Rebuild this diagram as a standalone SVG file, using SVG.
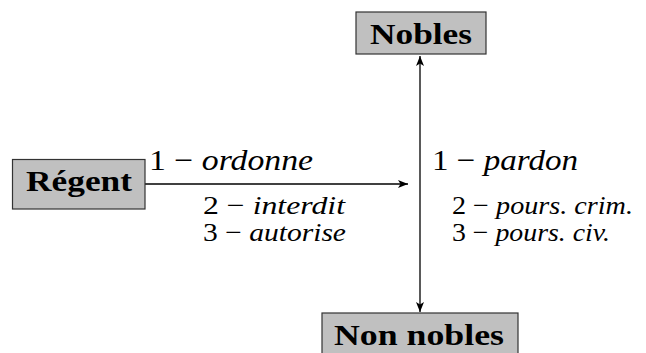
<svg xmlns="http://www.w3.org/2000/svg" width="646" height="353" viewBox="0 0 646 353">
<style>
.box{fill:#c0c0c0;stroke:#333;stroke-width:1.2}
.nt{font-family:"Liberation Serif",serif;font-weight:bold;font-size:30px;fill:#000}
.lb{font-family:"Liberation Serif",serif;font-weight:normal;fill:#000}
.it{font-style:italic}
.big{font-size:30px}
.sm{font-size:26px}
.conn{stroke:#000;stroke-width:1.3;fill:none}
</style>
<defs>
<marker id="ah" viewBox="0 0 10 8" refX="10" refY="4" markerWidth="10" markerHeight="8" markerUnits="userSpaceOnUse" orient="auto">
<path d="M0,0 L10,4 L0,8 L2.5,4 Z" fill="#000"/>
</marker>
</defs>
<g id="connectors">
<line class="conn" x1="145" y1="184" x2="408" y2="184" marker-end="url(#ah)"/>
<line class="conn" x1="420" y1="184" x2="420" y2="56" marker-end="url(#ah)"/>
<line class="conn" x1="420" y1="184" x2="420" y2="312" marker-end="url(#ah)"/>
</g>
<g id="regent">
<rect class="box" x="12.5" y="159.5" width="132.5" height="49.5"/>
<text class="nt" x="26" y="191" textLength="106" lengthAdjust="spacingAndGlyphs">Régent</text>
</g>
<g id="nobles">
<rect class="box" x="356" y="12" width="130" height="42"/>
<text class="nt" x="370" y="44" textLength="102" lengthAdjust="spacingAndGlyphs">Nobles</text>
</g>
<g id="non-nobles">
<rect class="box" x="322" y="313" width="196" height="44"/>
<text class="nt" x="334" y="345" textLength="170" lengthAdjust="spacingAndGlyphs">Non nobles</text>
</g>
<g id="labels">
<text class="lb big" x="149" y="170" textLength="164" lengthAdjust="spacingAndGlyphs">1 − <tspan class="it">ordonne</tspan></text>
<text class="lb sm" x="203" y="214" textLength="142" lengthAdjust="spacingAndGlyphs">2 − <tspan class="it">interdit</tspan></text>
<text class="lb sm" x="203" y="241" textLength="143" lengthAdjust="spacingAndGlyphs">3 − <tspan class="it">autorise</tspan></text>
<text class="lb big" x="432" y="170" textLength="146" lengthAdjust="spacingAndGlyphs">1 − <tspan class="it">pardon</tspan></text>
<text class="lb sm" x="452" y="214" textLength="181" lengthAdjust="spacingAndGlyphs">2 − <tspan class="it">pours. crim.</tspan></text>
<text class="lb sm" x="452" y="241" textLength="158" lengthAdjust="spacingAndGlyphs">3 − <tspan class="it">pours. civ.</tspan></text>
</g>
</svg>
